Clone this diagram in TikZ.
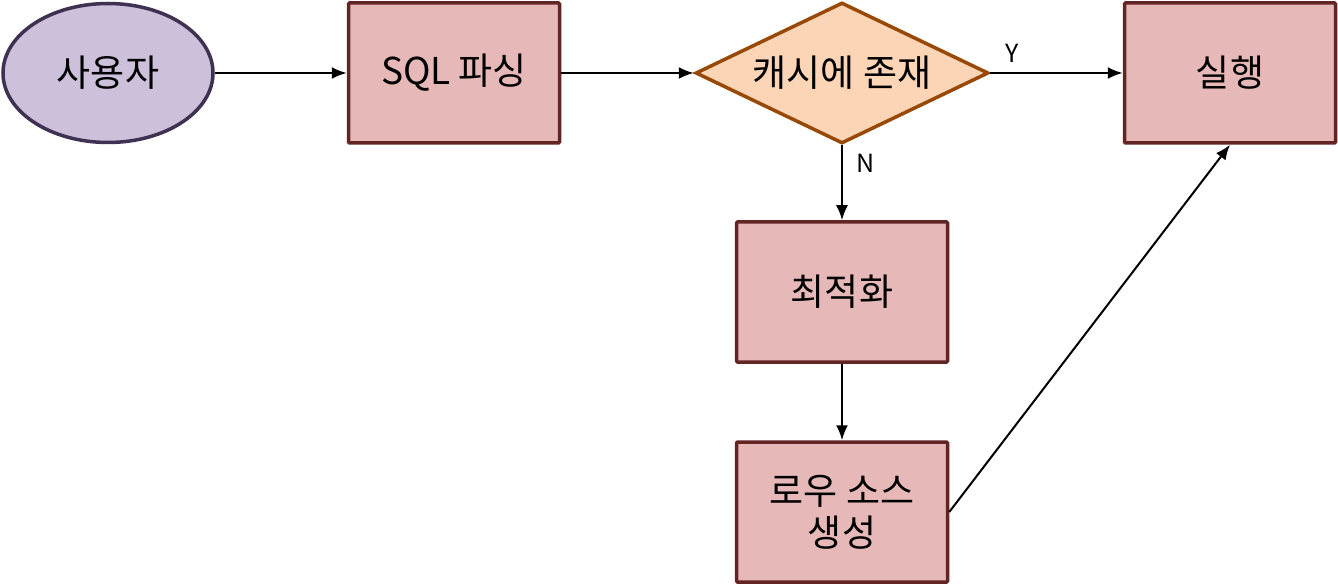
\documentclass[tikz,border=0pt]{standalone}
\usepackage{fontspec}
\setmainfont{Noto Sans CJK KR}
\usetikzlibrary{shapes.geometric,arrows.meta}
\definecolor{ellfill}{HTML}{CCC0DA}
\definecolor{elldraw}{HTML}{3F3151}
\definecolor{boxfill}{HTML}{E6B9B8}
\definecolor{boxdraw}{HTML}{632523}
\definecolor{diafill}{HTML}{FBD5B5}
\definecolor{diadraw}{HTML}{984807}
\begin{document}
\begin{tikzpicture}[x=1pt,y=-1pt,
  every node/.style={font=\fontsize{37}{42}\selectfont, inner sep=0pt, align=center},
  boxnode/.style={rectangle, draw=boxdraw, fill=boxfill, line width=3.5pt, minimum width=211pt, minimum height=140pt, rounded corners=1pt},
  ellnode/.style={ellipse, draw=elldraw, fill=ellfill, line width=3.5pt, minimum width=210pt, minimum height=139pt},
  dianode/.style={diamond, draw=diadraw, fill=diafill, line width=3.5pt, aspect=2.08, minimum width=293pt, minimum height=141pt},
  conn/.style={-{Latex[length=15pt,width=12pt]}, line width=2pt, black},
  lbl/.style={font=\fontsize{25}{30}\selectfont}]
\useasboundingbox (0,0) rectangle (1338,585);
\node[ellnode] (user) at (108,73) {사용자};
\node[boxnode] (parse) at (454,73) {SQL 파싱};
\node[dianode] (cache) at (842,73) {캐시에 존재};
\node[boxnode] (exec) at (1230,73) {실행};
\node[boxnode] (opt) at (842,292) {최적화};
\node[boxnode] (row) at (842,512) {로우 소스\\생성};
\draw[conn] (user) -- (parse);
\draw[conn] (parse) -- (cache);
\draw[conn] (cache.east) -- (exec.west);
\draw[conn] (cache.south) -- (opt.north);
\draw[conn] (opt) -- (row);
\draw[conn] (row.east) -- (exec.south);
\node[lbl] (ylbl) at (1012,53) {Y};
\node[lbl] (nlbl) at (866,163) {N};
\end{tikzpicture}
\end{document}
